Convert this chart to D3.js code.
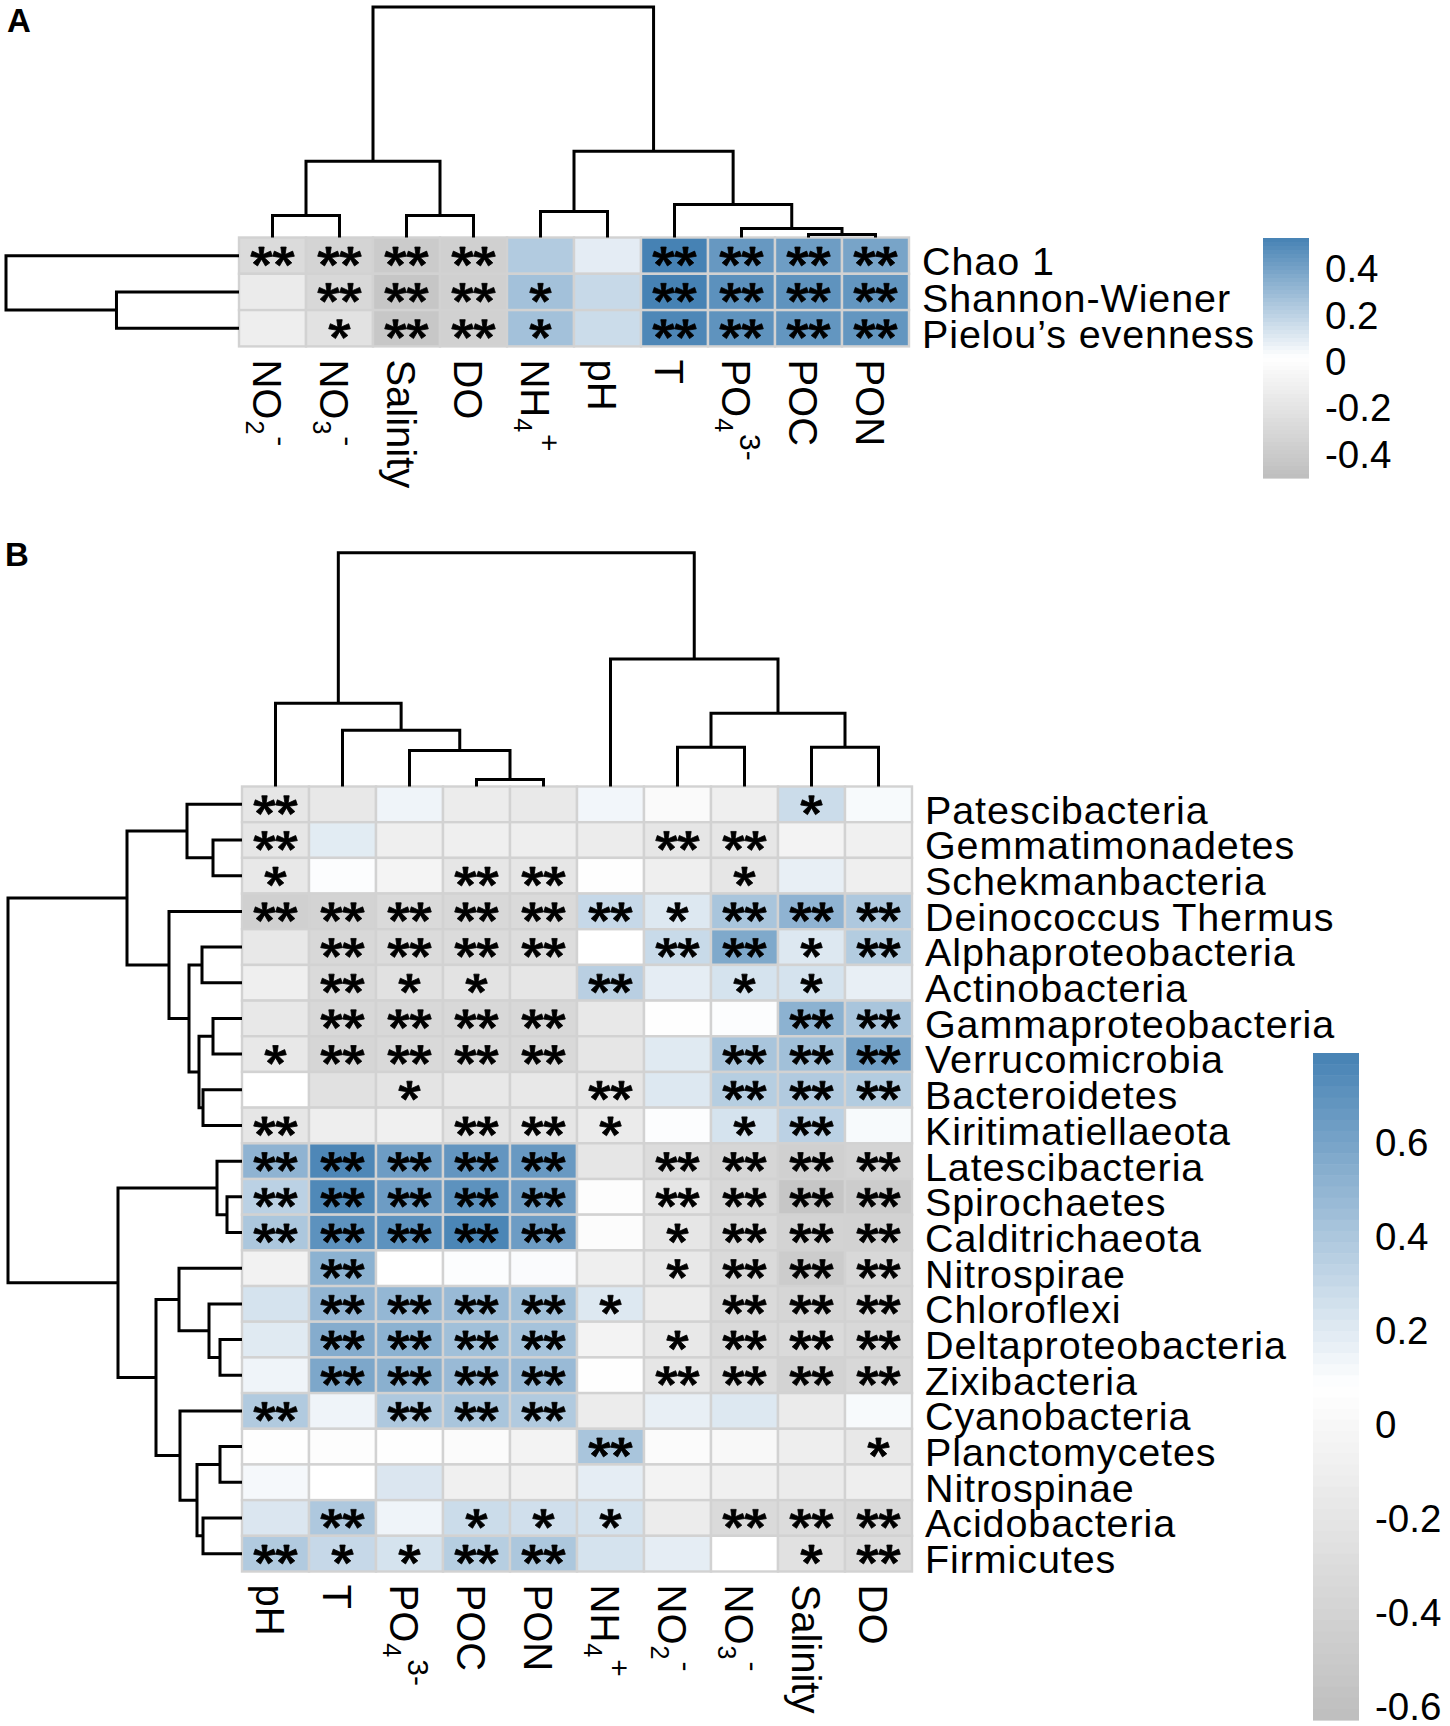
<!DOCTYPE html>
<html>
<head>
<meta charset="utf-8">
<title>Correlation heatmaps</title>
<script src="https://cdn.jsdelivr.net/npm/d3@7/dist/d3.min.js"></script>
<style>
  html, body { margin: 0; padding: 0; background: #ffffff; }
  svg { display: block; }
</style>
</head>
<body>
<svg id="chart" width="1450" height="1726" viewBox="0 0 1450 1726"></svg>
<script>
// ======================= DATA =======================
// ---- Panel A ----
const colsA = ["NO2-", "NO3-", "Salinity", "DO", "NH4+", "pH", "T", "PO43-", "POC", "PON"];
const rowsA = ["Chao 1", "Shannon-Wiener", "Pielou’s evenness"];
const valuesA = [
  [-0.27, -0.33, -0.40, -0.36, 0.23, 0.09, 0.53, 0.44, 0.42, 0.39],
  [-0.15, -0.30, -0.44, -0.36, 0.27, 0.17, 0.53, 0.47, 0.46, 0.45],
  [-0.12, -0.22, -0.43, -0.35, 0.27, 0.16, 0.51, 0.46, 0.45, 0.45]
];
const signifA = [
  ["**", "**", "**", "**", "",  "", "**", "**", "**", "**"],
  ["",   "**", "**", "**", "*", "", "**", "**", "**", "**"],
  ["",   "*",  "**", "**", "*", "", "**", "**", "**", "**"]
];
// dendrogram merge heights (h)
const colTreeA = { h: 2.30, c: [
  { h: 0.76, c: [ { h: 0.22, c: ["NO2-", "NO3-"] }, { h: 0.22, c: ["Salinity", "DO"] } ] },
  { h: 0.86, c: [ { h: 0.26, c: ["NH4+", "pH"] },
                  { h: 0.33, c: ["T", { h: 0.09, c: ["PO43-", { h: 0.03, c: ["POC", "PON"] }] }] } ] }
] };
const rowTreeA = { h: 2.32, c: ["Chao 1", { h: 1.22, c: ["Shannon-Wiener", "Pielou’s evenness"] }] };
const legendRangeA = [-0.505, 0.531];
const legendTicksA = [0.4, 0.2, 0, -0.2, -0.4];

// ---- Panel B ----
const colsB = ["pH", "T", "PO43-", "POC", "PON", "NH4+", "NO2-", "NO3-", "Salinity", "DO"];
const rowsB = ["Patescibacteria", "Gemmatimonadetes", "Schekmanbacteria", "Deinococcus Thermus",
  "Alphaproteobacteria", "Actinobacteria", "Gammaproteobacteria", "Verrucomicrobia", "Bacteroidetes",
  "Kiritimatiellaeota", "Latescibacteria", "Spirochaetes", "Calditrichaeota", "Nitrospirae",
  "Chloroflexi", "Deltaproteobacteria", "Zixibacteria", "Cyanobacteria", "Planctomycetes",
  "Nitrospinae", "Acidobacteria", "Firmicutes"];
const valuesB = [
  [-0.19, -0.17,  0.14, -0.13, -0.16,  0.13,  0.02, -0.09,  0.28,  0.11],
  [-0.19,  0.19, -0.09, -0.10, -0.11, -0.13, -0.19, -0.19, -0.05, -0.08],
  [-0.17,  0.09, -0.04, -0.19, -0.19,  0.07, -0.10, -0.19,  0.17, -0.09],
  [-0.43, -0.40, -0.32, -0.35, -0.32,  0.30,  0.21,  0.41,  0.51,  0.39],
  [-0.17, -0.35, -0.31, -0.31, -0.29,  0.08,  0.29,  0.57,  0.21,  0.37],
  [-0.09, -0.32, -0.25, -0.23, -0.19,  0.35,  0.18,  0.24,  0.24,  0.17],
  [-0.17, -0.35, -0.35, -0.35, -0.35, -0.17,  0.07,  0.09,  0.52,  0.41],
  [-0.17, -0.37, -0.34, -0.32, -0.34, -0.19,  0.20,  0.41,  0.44,  0.62],
  [ 0.08, -0.25, -0.21, -0.17, -0.17, -0.19,  0.21,  0.36,  0.38,  0.37],
  [-0.19, -0.11, -0.08, -0.21, -0.19, -0.14,  0.09,  0.24,  0.34,  0.11],
  [ 0.51,  0.76,  0.64,  0.68,  0.66, -0.19, -0.30, -0.37, -0.43, -0.39],
  [ 0.34,  0.75,  0.64,  0.70,  0.63,  0.06, -0.19, -0.35, -0.54, -0.48],
  [ 0.40,  0.70,  0.70,  0.77,  0.64,  0.05, -0.19, -0.32, -0.40, -0.41],
  [-0.06,  0.52,  0.08,  0.09,  0.10, -0.10, -0.17, -0.32, -0.48, -0.35],
  [ 0.24,  0.50,  0.49,  0.47,  0.44,  0.21, -0.13, -0.32, -0.37, -0.35],
  [ 0.20,  0.55,  0.52,  0.44,  0.42, -0.05, -0.17, -0.32, -0.32, -0.35],
  [ 0.14,  0.58,  0.53,  0.47,  0.47,  0.07, -0.19, -0.30, -0.40, -0.35],
  [ 0.38,  0.14,  0.39,  0.41,  0.38, -0.13,  0.17,  0.21, -0.14,  0.11],
  [ 0.07,  0.06,  0.07,  0.04, -0.05,  0.41,  0.04,  0.00, -0.11, -0.17],
  [ 0.12,  0.08,  0.22, -0.08, -0.08,  0.18, -0.05, -0.08, -0.14, -0.11],
  [ 0.22,  0.39,  0.14,  0.28,  0.26,  0.24, -0.13, -0.32, -0.30, -0.32],
  [ 0.38,  0.30,  0.24,  0.36,  0.40,  0.24,  0.18,  0.08, -0.25, -0.30]
];
const signifB = [
  ["**", "",   "",   "",   "",   "",   "",   "",   "*",  ""],
  ["**", "",   "",   "",   "",   "",   "**", "**", "",   ""],
  ["*",  "",   "",   "**", "**", "",   "",   "*",  "",   ""],
  ["**", "**", "**", "**", "**", "**", "*",  "**", "**", "**"],
  ["",   "**", "**", "**", "**", "",   "**", "**", "*",  "**"],
  ["",   "**", "*",  "*",  "",   "**", "",   "*",  "*",  ""],
  ["",   "**", "**", "**", "**", "",   "",   "",   "**", "**"],
  ["*",  "**", "**", "**", "**", "",   "",   "**", "**", "**"],
  ["",   "",   "*",  "",   "",   "**", "",   "**", "**", "**"],
  ["**", "",   "",   "**", "**", "*",  "",   "*",  "**", ""],
  ["**", "**", "**", "**", "**", "",   "**", "**", "**", "**"],
  ["**", "**", "**", "**", "**", "",   "**", "**", "**", "**"],
  ["**", "**", "**", "**", "**", "",   "*",  "**", "**", "**"],
  ["",   "**", "",   "",   "",   "",   "*",  "**", "**", "**"],
  ["",   "**", "**", "**", "**", "*",  "",   "**", "**", "**"],
  ["",   "**", "**", "**", "**", "",   "*",  "**", "**", "**"],
  ["",   "**", "**", "**", "**", "",   "**", "**", "**", "**"],
  ["**", "",   "**", "**", "**", "",   "",   "",   "",   ""],
  ["",   "",   "",   "",   "",   "**", "",   "",   "",   "*"],
  ["",   "",   "",   "",   "",   "",   "",   "",   "",   ""],
  ["",   "**", "",   "*",  "*",  "*",  "",   "**", "**", "**"],
  ["**", "*",  "*",  "**", "**", "",   "",   "",   "*",  "**"]
];
const colTreeB = { h: 2.33, c: [
  { h: 0.83, c: ["pH", { h: 0.56, c: ["T", { h: 0.36, c: ["PO43-", { h: 0.07, c: ["POC", "PON"] }] }] }] },
  { h: 1.27, c: ["NH4+", { h: 0.73, c: [ { h: 0.39, c: ["NO2-", "NO3-"] }, { h: 0.39, c: ["Salinity", "DO"] } ] }] }
] };
const rowTreeB = { h: 2.34, c: [
  { h: 1.15, c: [
    { h: 0.55, c: ["Patescibacteria", { h: 0.29, c: ["Gemmatimonadetes", "Schekmanbacteria"] }] },
    { h: 0.73, c: ["Deinococcus Thermus", { h: 0.53, c: [
      { h: 0.40, c: ["Alphaproteobacteria", "Actinobacteria"] },
      { h: 0.43, c: [ { h: 0.29, c: ["Gammaproteobacteria", "Verrucomicrobia"] },
                      { h: 0.39, c: ["Bacteroidetes", "Kiritimatiellaeota"] } ] } ] }] }
  ] },
  { h: 1.24, c: [
    { h: 0.25, c: ["Latescibacteria", { h: 0.15, c: ["Spirochaetes", "Calditrichaeota"] }] },
    { h: 0.86, c: [
      { h: 0.63, c: ["Nitrospirae", { h: 0.33, c: ["Chloroflexi", { h: 0.22, c: ["Deltaproteobacteria", "Zixibacteria"] }] }] },
      { h: 0.62, c: ["Cyanobacteria", { h: 0.45, c: [
        { h: 0.22, c: ["Planctomycetes", "Nitrospinae"] },
        { h: 0.39, c: ["Acidobacteria", "Firmicutes"] } ] }] }
    ] }
  ] }
] };
const legendRangeB = [-0.63, 0.79];
const legendTicksB = [0.6, 0.4, 0.2, 0, -0.2, -0.4, -0.6];

// colour ramp: grey -> white -> steelblue
const colorStops = ["#BEBEBE", "#FFFFFF", "#4682B4"];
// label formatting: [main, subscript, superscript]
const labelParts = {
  "NO2-": ["NO", "2", "-"],
  "NO3-": ["NO", "3", "-"],
  "NH4+": ["NH", "4", "+"],
  "PO43-": ["PO", "4", "3-"]
};

// ======================= DRAWING =======================
const FONT = '"Liberation Sans", Arial, Helvetica, sans-serif';
const svg = d3.select("#chart");
svg.append("rect").attr("width", 1450).attr("height", 1726).attr("fill", "#fff");

function drawTree(g, tree, posOf, hScale, orient) {
  const root = d3.hierarchy(tree, d => (typeof d === "string") ? null : d.c);
  root.eachAfter(n => {
    if (!n.children) { n.pos = posOf(n.data); n.hh = 0; }
    else { n.pos = d3.mean(n.children, k => k.pos); n.hh = n.data.h; }
  });
  const internal = root.descendants().filter(n => n.children);
  g.selectAll(null).data(internal).join("path")
    .attr("d", n => {
      const [a, b] = n.children;
      const p = d3.path();
      if (orient === "top") {
        p.moveTo(a.pos, hScale(a.hh)); p.lineTo(a.pos, hScale(n.hh));
        p.lineTo(b.pos, hScale(n.hh)); p.lineTo(b.pos, hScale(b.hh));
      } else {
        p.moveTo(hScale(a.hh), a.pos); p.lineTo(hScale(n.hh), a.pos);
        p.lineTo(hScale(n.hh), b.pos); p.lineTo(hScale(b.hh), b.pos);
      }
      return p.toString();
    })
    .attr("fill", "none").attr("stroke", "#000").attr("stroke-width", 3)
    .attr("stroke-linejoin", "miter").attr("stroke-linecap", "butt");
}

// filled 5-arm asterisk with arms widening to the tip
function starPath(cx, cy) {
  const p = d3.path();
  const rx = 10.5, ry = 9.6, w0 = 1.3, w1 = 2.7;
  for (let k = 0; k < 5; k++) {
    const a = (-90 + 72 * k) * Math.PI / 180;
    const ux = Math.cos(a), uy = Math.sin(a);
    const nx = -uy, ny = ux;
    const tx = cx + rx * ux, ty = cy + ry * uy;
    p.moveTo(cx + nx * w0, cy + ny * w0);
    p.lineTo(tx + nx * w1, ty + ny * w1);
    p.lineTo(tx - nx * w1, ty - ny * w1);
    p.lineTo(cx - nx * w0, cy - ny * w0);
    p.closePath();
  }
  return p.toString();
}

function drawPanel(P) {
  const g = svg.append("g");
  const x = d3.scaleBand().domain(P.cols).range([P.left, P.right]);
  const y = d3.scaleBand().domain(P.rows).range([P.top, P.bottom]);
  const [lo, hi] = P.legendRange;
  const color = d3.scaleLinear().domain([lo, (lo + hi) / 2, hi]).range(colorStops).clamp(true);

  // cells
  const cells = P.rows.flatMap((r, i) => P.cols.map((c, j) => ({ r, c, v: P.values[i][j], s: P.signif[i][j] })));
  g.append("g").selectAll("rect").data(cells).join("rect")
    .attr("x", d => x(d.c)).attr("y", d => y(d.r))
    .attr("width", x.bandwidth()).attr("height", y.bandwidth())
    .attr("fill", d => color(d.v))
    .attr("stroke", "#d2d2d2").attr("stroke-width", 2.4);

  // significance stars
  const stars = [];
  cells.forEach(d => {
    const n = d.s.length;
    const cx = x(d.c) + x.bandwidth() / 2, cy = y(d.r) + y.bandwidth() / 2 + 1;
    const offs = n === 2 ? [-11, 11] : (n === 1 ? [0] : []);
    offs.forEach(o => stars.push([cx + o, cy]));
  });
  g.append("g").selectAll("path").data(stars).join("path")
    .attr("d", d => starPath(d[0], d[1]))
    .attr("fill", "#000").attr("stroke", "#000").attr("stroke-width", 0.8).attr("stroke-linejoin", "round");

  // dendrograms
  const colH = d3.scaleLinear().domain([0, P.colTree.h]).range([P.top, P.colTreeTop]);
  drawTree(g.append("g"), P.colTree, n => x(n) + x.bandwidth() / 2, colH, "top");
  const rowH = d3.scaleLinear().domain([0, P.rowTree.h]).range([P.left, P.rowTreeLeft]);
  drawTree(g.append("g"), P.rowTree, n => y(n) + y.bandwidth() / 2, rowH, "left");

  // row labels
  g.append("g").selectAll("text").data(P.rows).join("text")
    .attr("x", P.right + 13).attr("y", d => y(d) + y.bandwidth() + 1.5)
    .attr("font-family", FONT).attr("font-size", 39.5).attr("letter-spacing", 0.9)
    .attr("fill", "#000")
    .text(d => d);

  // column labels (rotated)
  P.cols.forEach(c => {
    const parts = labelParts[c] || [c];
    const t = g.append("text")
      .attr("transform", `translate(${x(c) + x.bandwidth() / 2 - 20},${P.bottom + 13}) rotate(90)`)
      .attr("font-family", FONT).attr("font-size", 40).attr("fill", "#000");
    t.append("tspan").text(parts[0]);
    if (parts[1]) t.append("tspan").attr("font-size", 25).attr("dx", 1).attr("dy", 7).text(parts[1]);
    if (parts[2]) t.append("tspan").attr("font-size", 30).attr("dx", 2).attr("dy", -25).text(parts[2]);
  });

  // colour legend
  const L = P.legend;
  const ly = d3.scaleLinear().domain([hi, lo]).range([L.top, L.bottom]);
  const nSteps = 60;
  const steps = d3.range(nSteps).map(i => hi - (hi - lo) * i / nSteps);
  const stepH = (L.bottom - L.top) / nSteps;
  g.append("g").selectAll("rect").data(steps).join("rect")
    .attr("x", L.x).attr("width", L.w)
    .attr("y", d => ly(d)).attr("height", stepH + 0.6)
    .attr("fill", d => color(d - (hi - lo) / nSteps / 2));
  g.append("g").selectAll("text").data(P.ticks).join("text")
    .attr("x", L.labelX).attr("y", d => ly(d)).attr("dy", "0.36em")
    .attr("font-family", FONT).attr("font-size", 38.5).attr("fill", "#000")
    .text(d => String(d));

  // panel letter
  svg.append("text").attr("x", P.letterX).attr("y", P.letterY)
    .attr("font-family", FONT).attr("font-weight", "bold").attr("font-size", 33)
    .attr("fill", "#000").text(P.letter);
}

drawPanel({
  letter: "A", letterX: 7, letterY: 32,
  cols: colsA, rows: rowsA, values: valuesA, signif: signifA,
  colTree: colTreeA, rowTree: rowTreeA, legendRange: legendRangeA, ticks: legendTicksA,
  left: 239, right: 909, top: 237.5, bottom: 346.4, colTreeTop: 7, rowTreeLeft: 6,
  legend: { x: 1263, w: 46, top: 238, bottom: 478, labelX: 1325 }
});

drawPanel({
  letter: "B", letterX: 5, letterY: 566,
  cols: colsB, rows: rowsB, values: valuesB, signif: signifB,
  colTree: colTreeB, rowTree: rowTreeB, legendRange: legendRangeB, ticks: legendTicksB,
  left: 242, right: 912, top: 786.5, bottom: 1571.5, colTreeTop: 552.7, rowTreeLeft: 8,
  legend: { x: 1313, w: 46, top: 1053, bottom: 1720, labelX: 1375 }
});
</script>
</body>
</html>
